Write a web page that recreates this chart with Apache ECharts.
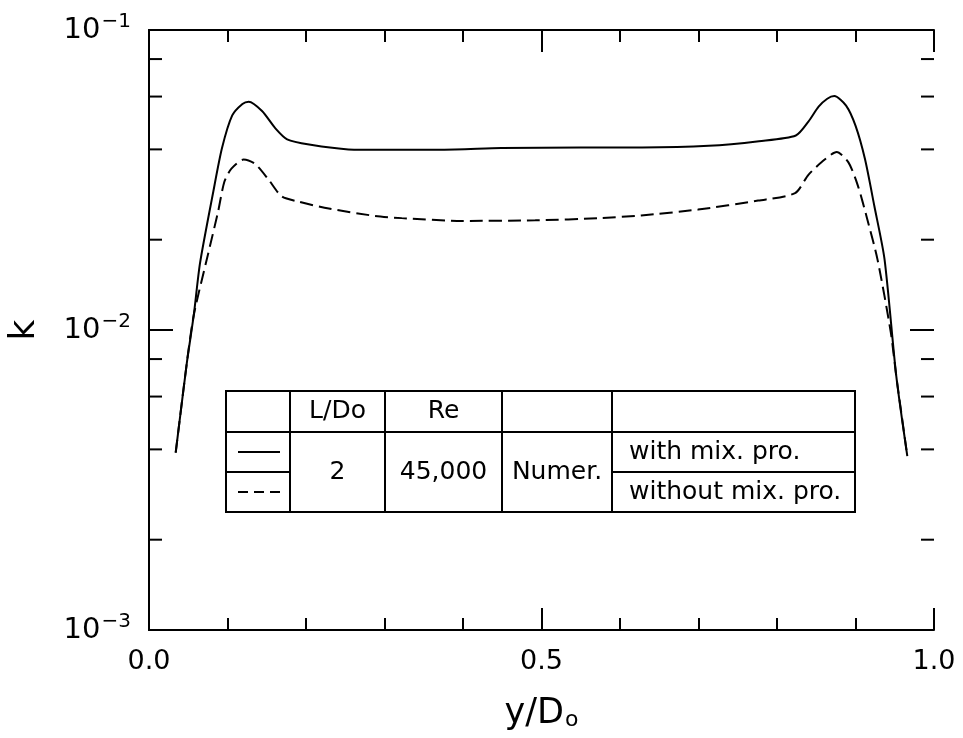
<!DOCTYPE html>
<html>
<head>
<meta charset="utf-8">
<title>k profile</title>
<script src="https://cdn.jsdelivr.net/npm/echarts@6/dist/echarts.min.js"></script>
<style>
  html, body { margin: 0; padding: 0; background: #fff; }
  #chart { width: 963px; height: 738px; }
</style>
</head>
<body>
<div id="chart"></div>
<script>
// y/Do positions and k values
const xWith = [0.034, 0.048, 0.057, 0.065, 0.082, 0.093, 0.106, 0.119, 0.127, 0.144, 0.161, 0.176, 0.204, 0.254, 0.300, 0.373, 0.449, 0.550, 0.628, 0.713, 0.777, 0.824, 0.840, 0.853, 0.864, 0.873, 0.888, 0.900, 0.912, 0.924, 0.937, 0.952, 0.966]
const kWith = [0.0039, 0.0077, 0.0112, 0.0167, 0.0290, 0.0404, 0.0519, 0.0567, 0.0577, 0.0537, 0.0470, 0.0432, 0.0415, 0.0400, 0.0399, 0.0399, 0.0404, 0.0406, 0.0406, 0.0411, 0.0426, 0.0445, 0.0495, 0.0555, 0.0590, 0.0602, 0.0560, 0.0480, 0.0372, 0.0259, 0.0172, 0.0070, 0.0038]

const xWithout = [0.034, 0.048, 0.057, 0.075, 0.088, 0.096, 0.105, 0.1205, 0.135, 0.152, 0.169, 0.190, 0.229, 0.288, 0.322, 0.399, 0.492, 0.576, 0.627, 0.6995, 0.776, 0.823, 0.840, 0.857, 0.876, 0.891, 0.903, 0.915, 0.928, 0.945, 0.952, 0.966]
const kWithout = [0.0039, 0.0077, 0.0112, 0.0178, 0.0248, 0.0312, 0.0345, 0.0370, 0.0358, 0.0318, 0.0279, 0.0268, 0.0254, 0.0240, 0.0236, 0.0231, 0.0232, 0.0236, 0.0241, 0.0252, 0.0270, 0.0286, 0.0329, 0.0363, 0.0392, 0.0362, 0.0303, 0.0234, 0.0172, 0.0098, 0.0070, 0.0038]

// minor ticks of the log axis (2,4,6,8 per decade)
const kMinorTicks = [0.002, 0.004, 0.006, 0.008, 0.02, 0.04, 0.06, 0.08]
// the middle decade gets a long tick on both sides
const kMajorTicks = [0.01]

// legend table texts
const tableHead = ['L/Do', 'Re']
const tableRow = ['2', '45,000', 'Numer.']
const caseNames = ['with mix. pro.', 'without mix. pro.']

const FONT = 'DejaVu Sans'
const INK = '#000'

const chart = echarts.init(document.getElementById('chart'))

// table frame (pixel layout)
const T = { x0: 226, x1: 290, x2: 385, x3: 502, x4: 612, x5: 855, y0: 391, y1: 432, y2: 472, y3: 512 }

const ln = (x1, y1, x2, y2, dash) => ({
  type: 'line',
  shape: { x1, y1, x2, y2 },
  style: { stroke: INK, lineWidth: 2, lineDash: dash || null }
})
const txt = (x, y, text, align) => ({
  type: 'text',
  x, y,
  style: { text, fill: INK, fontFamily: FONT, fontSize: 25, align: align || 'center', verticalAlign: 'middle' }
})

const tableGraphic = [
  { type: 'rect', shape: { x: T.x0, y: T.y0, width: T.x5 - T.x0, height: T.y3 - T.y0 }, style: { fill: '#fff', stroke: INK, lineWidth: 2 } },
  ln(T.x0, T.y1, T.x5, T.y1),
  ln(T.x1, T.y0, T.x1, T.y3),
  ln(T.x2, T.y0, T.x2, T.y3),
  ln(T.x3, T.y0, T.x3, T.y3),
  ln(T.x4, T.y0, T.x4, T.y3),
  ln(T.x0, T.y2, T.x1, T.y2),
  ln(T.x4, T.y2, T.x5, T.y2),
  ln(238, (T.y1 + T.y2) / 2, 280, (T.y1 + T.y2) / 2),
  ln(238, (T.y2 + T.y3) / 2, 280, (T.y2 + T.y3) / 2, [10, 6]),
  txt((T.x1 + T.x2) / 2, (T.y0 + T.y1) / 2, tableHead[0]),
  txt((T.x2 + T.x3) / 2, (T.y0 + T.y1) / 2, tableHead[1]),
  txt((T.x1 + T.x2) / 2, (T.y1 + T.y3) / 2, tableRow[0]),
  txt((T.x2 + T.x3) / 2, (T.y1 + T.y3) / 2, tableRow[1]),
  txt((T.x3 + T.x4) / 2, (T.y1 + T.y3) / 2, tableRow[2]),
  txt(T.x4 + 17, (T.y1 + T.y2) / 2, caseNames[0], 'left'),
  txt(T.x4 + 17, (T.y2 + T.y3) / 2, caseNames[1], 'left')
]

const makeX = (pos) => ({
  type: 'value',
  position: pos,
  min: 0,
  max: 1,
  interval: 0.5,
  axisLine: { show: true, lineStyle: { color: INK, width: 2 } },
  axisTick: { show: true, inside: true, length: 22, lineStyle: { color: INK, width: 2 } },
  minorTick: { show: true, splitNumber: 5, length: 12, lineStyle: { color: INK, width: 2 } },
  splitLine: { show: false },
  minorSplitLine: { show: false },
  axisLabel: { show: false }
})

const makeY = (pos) => ({
  type: 'log',
  position: pos,
  logBase: 10,
  min: 0.001,
  max: 0.1,
  axisLine: { show: true, lineStyle: { color: INK, width: 2 } },
  axisTick: { show: false },
  splitLine: { show: false },
  axisLabel: { show: false }
})

const xBottom = makeX('bottom')
xBottom.name = '{a|y/D}{o|o}'
xBottom.nameLocation = 'middle'
xBottom.nameGap = 66
xBottom.nameTextStyle = {
  rich: {
    a: { fontFamily: FONT, fontSize: 35, color: INK },
    o: { fontFamily: FONT, fontSize: 22, color: INK, verticalAlign: 'bottom', padding: [12, 0, 0, 1] }
  }
}
xBottom.axisLabel = {
  show: true,
  margin: 18,
  fontFamily: FONT,
  fontSize: 27,
  color: INK,
  formatter: v => v.toFixed(1)
}

const yLeft = makeY('left')
yLeft.name = 'k'
yLeft.nameLocation = 'middle'
yLeft.nameRotate = 90
yLeft.nameGap = 106
yLeft.nameTextStyle = { fontFamily: FONT, fontSize: 36, color: INK }
yLeft.axisLabel = {
  show: true,
  margin: 18,
  fontFamily: FONT,
  fontSize: 28,
  color: INK,
  formatter: v => '{b|10}{s|−' + Math.round(-Math.log10(v)) + '}',
  rich: {
    b: { fontFamily: FONT, fontSize: 29, color: INK, lineHeight: 36 },
    s: { fontFamily: FONT, fontSize: 20, color: INK, verticalAlign: 'top', padding: [0, 0, 0, 1] }
  }
}

const tickItem = (len) => (params, api) => {
  const k = api.value(1)
  const pl = api.coord([0, k])
  const pr = api.coord([1, k])
  const s = { stroke: INK, lineWidth: 2 }
  return {
    type: 'group',
    children: [
      { type: 'line', shape: { x1: pl[0], y1: pl[1], x2: pl[0] + len, y2: pl[1] }, style: s },
      { type: 'line', shape: { x1: pr[0] - len, y1: pr[1], x2: pr[0], y2: pr[1] }, style: s }
    ]
  }
}

const option = {
  animation: false,
  backgroundColor: '#fff',
  grid: { left: 149, top: 30, width: 785, height: 600, containLabel: false, outerBoundsMode: 'none' },
  xAxis: [xBottom, makeX('top')],
  yAxis: [yLeft, makeY('right')],
  graphic: tableGraphic,
  series: [
    {
      name: caseNames[0],
      type: 'line',
      data: xWith.map((x, i) => [x, kWith[i]]),
      smooth: 0.25,
      showSymbol: false,
      symbol: 'none',
      lineStyle: { color: INK, width: 2 }
    },
    {
      name: caseNames[1],
      type: 'line',
      data: xWithout.map((x, i) => [x, kWithout[i]]),
      smooth: 0.25,
      showSymbol: false,
      symbol: 'none',
      lineStyle: { color: INK, width: 2, type: [13, 6] }
    },
    {
      // short ticks for the 2,4,6,8 marks on both log axes
      type: 'custom',
      silent: true,
      clip: false,
      data: kMinorTicks.map(k => [0, k]),
      renderItem: tickItem(13)
    },
    {
      // long ticks at the decades
      type: 'custom',
      silent: true,
      clip: false,
      data: kMajorTicks.map(k => [0, k]),
      renderItem: tickItem(24)
    }
  ]
}

chart.setOption(option)
window.addEventListener('resize', () => chart.resize())
</script>
</body>
</html>
